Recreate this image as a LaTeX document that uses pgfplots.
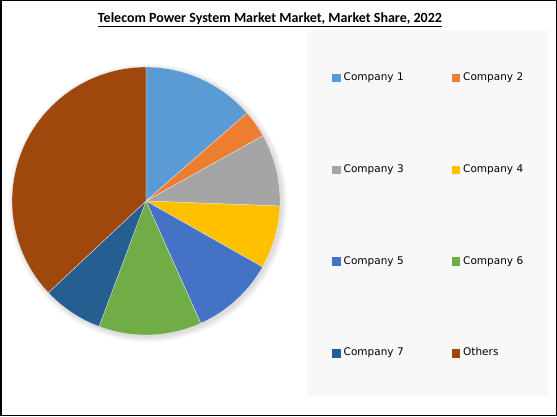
\documentclass[border=0pt]{standalone}
\usepackage{pgfplots}
\usepackage{pgfplotstable}
\pgfplotsset{compat=1.18}
\usepackage{fontspec}
\setmainfont{DejaVu Sans}
\newfontfamily\titlefont{Carlito}

\definecolor{pie0}{HTML}{5B9BD5}
\definecolor{pie1}{HTML}{ED7D31}
\definecolor{pie2}{HTML}{A5A5A5}
\definecolor{pie3}{HTML}{FFC000}
\definecolor{pie4}{HTML}{4472C4}
\definecolor{pie5}{HTML}{70AD47}
\definecolor{pie6}{HTML}{255E91}
\definecolor{pie7}{HTML}{9E480E}
\definecolor{legbg}{HTML}{F8F8F8}

% market share, percent
\pgfplotstableread[col sep=comma]{
name,share
Company 1,13.6
Company 2,3.3
Company 3,8.7
Company 4,7.6
Company 5,10.1
Company 6,12.4
Company 7,7.3
Others,37.0
}\sharetable

\begin{document}
\begin{tikzpicture}
% slice angles, clockwise from 12 o'clock
\pgfmathsetmacro{\acc}{90}
\pgfplotsforeachungrouped \i in {0,...,7}{%
  \pgfplotstablegetelem{\i}{share}\of\sharetable
  \pgfmathsetmacro{\endang}{\acc-3.6*\pgfplotsretval}%
  \expandafter\xdef\csname sa\i\endcsname{\acc}%
  \expandafter\xdef\csname ea\i\endcsname{\endang}%
  \global\let\acc\endang
}
\useasboundingbox (0pt,0pt) rectangle (557pt,416pt);
\begin{axis}[
    at={(0pt,0pt)}, anchor=south west,
    x=1pt, y=1pt,
    xmin=0, xmax=557, ymin=0, ymax=416,
    hide axis, clip=false,
    legend columns=2,
    legend image code/.code={\fill[#1, draw=none] (0pt,-4.2pt) rectangle (8.5pt,4.2pt);},
    legend style={
        at={(332/557,343/416)}, anchor=north west,
        draw=none, fill=none, inner sep=0pt,
        row sep=81.7pt,
        nodes={inner sep=0pt, text width=108pt, text height=7.5pt, text depth=2.5pt,
               font=\fontsize{10.5}{12}\selectfont},
        /tikz/every odd column/.append style={column sep=3pt},
    },
]
% frame and legend panel
\draw[black, line width=1.5pt] (axis cs:0.75,0.75) rectangle (axis cs:556.25,415.25);
\fill[legbg] (axis cs:307,19) rectangle (axis cs:548,386);

% soft shadow
\pgfplotsinvokeforeach{1,...,7}{
  \fill[black, opacity=0.02] (axis cs:148,213) circle[radius=133pt+#1*0.9pt];
}

% slices
\pgfplotsinvokeforeach{0,...,7}{
  \fill[pie#1, draw=white!85!gray, line width=0.3pt]
    (axis cs:146,215) -- ++(\csname sa#1\endcsname:134pt)
    arc[start angle=\csname sa#1\endcsname, end angle=\csname ea#1\endcsname, radius=134pt]
    -- cycle;
}

\node[font=\titlefont\bfseries\fontsize{14}{17}\selectfont]
  at (axis cs:270,396) {\underline{Telecom Power System Market Market, Market Share, 2022}};

\addlegendimage{fill=pie0, draw=none}\addlegendentry{Company 1}
\addlegendimage{fill=pie1, draw=none}\addlegendentry{Company 2}
\addlegendimage{fill=pie2, draw=none}\addlegendentry{Company 3}
\addlegendimage{fill=pie3, draw=none}\addlegendentry{Company 4}
\addlegendimage{fill=pie4, draw=none}\addlegendentry{Company 5}
\addlegendimage{fill=pie5, draw=none}\addlegendentry{Company 6}
\addlegendimage{fill=pie6, draw=none}\addlegendentry{Company 7}
\addlegendimage{fill=pie7, draw=none}\addlegendentry{Others}
\end{axis}
\end{tikzpicture}
\end{document}
